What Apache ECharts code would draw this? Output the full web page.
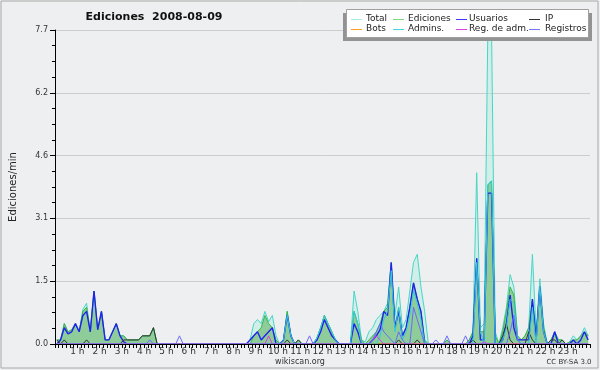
<!DOCTYPE html>
<html><head><meta charset="utf-8">
<script src="https://cdn.jsdelivr.net/npm/echarts@6/dist/echarts.min.js"></script>
<style>
html,body{margin:0;padding:0;background:#fff;}
#c{width:600px;height:370px;}
</style></head><body><div id="c"></div>
<script>
// 144 ten-minute intervals, values in edits/min
const hourLabels = ['1 h','2 h','3 h','4 h','5 h','6 h','7 h','8 h','9 h','10 h','11 h','12 h','13 h','14 h','15 h','16 h','17 h','18 h','19 h','20 h','21 h','22 h','23 h'];
const yTickLabels = ['0.0','1.5','3.1','4.6','6.2','7.7'];
const seriesNames = ['Total','Ediciones','Usuarios','IP','Bots','Admins.','Reg. de adm.','Registros'];

const total = [
 0.1,0.1,0.5,0.3,0.35,0.5,
 0.3,0.85,1.0,0.3,1.3,0.35,
 0.8,0.1,0.1,0.3,0.5,0.2,
 0.2,0.1,0.1,0.1,0.1,0.2,
 0.2,0.2,0.4,0,0,0,
 0,0,0,0,0,0,
 0,0,0,0,0,0,
 0,0,0,0,0,0,
 0,0,0,0,0.1,0.5,
 0.6,0.5,0.8,0.55,0.7,0.2,
 0,0.1,0.8,0.2,0,0.1,
 0,0,0,0,0.15,0.4,
 0.7,0.5,0.3,0.1,0,0,
 0,0,1.3,0.8,0.1,0.05,
 0.3,0.4,0.6,0.7,0.8,1.0,
 2.0,0.7,1.4,0.4,0.6,1.3,
 2.0,2.2,1.4,0.8,0,0,
 0,0,0,0.1,0,0,
 0,0,0,0.1,0.3,4.2,
 0.4,0.5,7.7,7.7,0.3,0,
 0.4,0.9,1.7,1.4,0.2,0.1,
 0.2,0.4,2.2,0.3,1.6,0.5,
 0,0.1,0.3,0.1,0.1,0,
 0.05,0.2,0.1,0.2,0.4,0.2
];
const ediciones = [
 0.1,0.1,0.5,0.3,0.35,0.5,
 0.3,0.8,0.9,0.3,1.3,0.35,
 0.8,0.1,0.1,0.3,0.5,0.2,
 0.2,0.1,0.1,0.1,0.1,0.2,
 0.2,0.2,0.4,0,0,0,
 0,0,0,0,0,0,
 0,0,0,0,0,0,
 0,0,0,0,0,0,
 0,0,0,0,0,0.2,
 0.3,0.4,0.7,0.5,0.4,0.1,
 0,0.1,0.8,0.2,0,0.1,
 0,0,0,0,0.15,0.4,
 0.7,0.5,0.3,0.1,0,0,
 0,0,0.8,0.5,0.1,0,
 0.1,0.2,0.3,0.5,0.8,0.9,
 2.0,0.4,0.9,0.2,0.4,0.9,
 1.5,1.1,0.8,0.1,0,0,
 0,0,0,0.1,0,0,
 0,0,0,0.1,0.3,2.1,
 0.3,0.3,3.9,4.0,0.2,0,
 0.3,0.8,1.4,1.2,0.2,0.1,
 0.2,0.4,1.1,0.2,1.4,0.4,
 0,0.1,0.3,0.1,0.1,0,
 0.05,0.1,0.1,0.2,0.3,0.2
];
const usuarios = [
 0,0.1,0.4,0.25,0.3,0.5,
 0.3,0.7,0.8,0.3,1.3,0.35,
 0.8,0.1,0.1,0.3,0.5,0.2,
 0.05,0,0,0,0,0,
 0,0,0,0,0,0,
 0,0,0,0,0,0,
 0,0,0,0,0,0,
 0,0,0,0,0,0,
 0,0,0,0,0.1,0.2,
 0.3,0.1,0.2,0.3,0.4,0,
 0,0.1,0.7,0.2,0,0,
 0,0,0,0,0.1,0.3,
 0.6,0.4,0.2,0.1,0,0,
 0,0,0.5,0.3,0,0,
 0,0.1,0.2,0.35,0.8,0.7,
 2.0,0.4,0.8,0.2,0.4,0.9,
 1.5,1.1,0.8,0,0,0,
 0,0,0,0,0,0,
 0,0,0,0,0.2,2.1,
 0.1,0.1,3.7,3.7,0,0,
 0.1,0.5,1.2,0.4,0.1,0.1,
 0.1,0.1,1.1,0.1,1.4,0.3,
 0,0,0.3,0,0,0,
 0,0.1,0,0.1,0.3,0.1
];
const ip = [
 0.1,0,0.1,0,0,0,
 0,0,0.1,0,0,0,
 0,0,0,0,0,0,
 0.1,0.1,0.1,0.1,0.1,0.2,
 0.2,0.2,0.4,0,0,0,
 0,0,0,0,0,0,
 0,0,0,0,0,0,
 0,0,0,0,0,0,
 0,0,0,0,0,0,
 0,0,0,0,0,0,
 0,0,0.1,0,0,0.1,
 0,0,0,0,0,0,
 0,0,0,0,0,0,
 0,0,0,0,0,0,
 0,0,0,0,0,0,
 0,0,0.1,0,0,0,
 0,0.1,0,0,0,0,
 0,0,0,0,0,0,
 0,0,0,0,0.1,0,
 0,0,0,0,0,0,
 0.2,0.5,0.1,0,0,0,
 0,0.3,0.1,0,0,0,
 0,0.1,0.1,0,0.1,0,
 0,0,0,0,0,0
];
const bots = new Array(144).fill(0);
const admins = [
 0,0,0,0,0,0, 0,0,0,0,0,0, 0,0,0,0,0,0, 0,0,0,0,0,0,
 0,0,0,0,0,0, 0,0,0,0,0,0, 0,0,0,0,0,0, 0,0,0,0,0,0,
 0,0,0,0,0,0, 0,0,0,0,0,0,
 0,0.1,0.7,0.2,0,0,
 0,0,0,0,0.15,0.4,
 0.7,0.5,0.3,0.1,0,0,
 0,0,0.8,0.5,0,0,
 0,0,0,0.2,0.6,0.8,
 1.8,0.3,0.9,0.1,0.3,0.7,
 1.3,1.0,0.6,0,0,0,
 0,0,0,0,0,0,
 0,0,0,0,0,2.0,
 0.3,0,3.9,4.0,0,0,
 0.1,0.4,1.1,1.0,0.1,0,
 0,0,0.9,0,1.4,0.3,
 0,0,0,0,0,0,
 0,0,0,0,0,0
];
const regAdm = [
 0,0,0,0,0,0, 0,0,0,0,0,0, 0,0,0,0,0,0, 0,0,0,0,0,0,
 0,0,0,0,0,0, 0,0,0,0,0,0, 0,0,0,0,0,0, 0,0,0,0,0,0,
 0,0,0,0,0,0,
 0,0,0,0.2,0,0,
 0,0,0,0,0,0, 0,0,0,0,0,0, 0,0,0,0,0,0, 0,0,0,0,0,0,
 0,0.1,0.2,0.1,0,0,
 0,0,0,0,0,0, 0,0,0,0,0,0, 0,0,0,0,0,0, 0,0,0,0,0,0,
 0,0.05,0,0,0,0,
 0,0,0,0,0,0, 0,0,0,0,0,0, 0,0,0,0,0,0, 0,0,0,0,0,0
];
const registros = [
 0,0,0,0,0,0, 0,0,0,0,0,0, 0,0,0,0,0,0, 0,0,0,0,0,0,
 0,0.1,0,0,0,0,
 0,0,0,0.2,0,0,
 0,0,0,0,0,0, 0,0,0,0,0,0, 0,0,0,0,0,0,
 0,0,0,0,0,0,
 0,0,0,0,0,0,
 0,0,0.2,0,0,0,
 0,0,0,0,0,0,
 0,0,0,0,0,0,
 0,0.1,0.3,0.5,0.3,0.2,
 0.1,0,0.3,0.1,0,0,
 0.9,0.6,0.3,0,0,0,
 0.1,0,0,0.2,0,0,
 0,0,0.2,0,0,0,
 0,0,0,0,0,0,
 0,0,0.3,0.7,0.1,0,
 0,0,0,0,0,0, 0,0,0,0,0,0, 0,0,0,0,0,0
];

const lineColors = ['#46d6c6','#3cb54a','#2222ee','#333333','#ffa020','#35c8dc','#d83ee0','#6a6aff'];
const legendColors = ['#a6ece2','#7fd67f','#3a3aff','#333333','#ffa020','#40d8e8','#e040e0','#7878ff'];

const xy = arr => arr.map((v, i) => [i + 0.5, v]);

const chart = echarts.init(document.getElementById('c'), null, {renderer: 'canvas'});

const FONT = 'DejaVu Sans';
function lineSeries(name, arr, color, width, area, z) {
  const s = {
    name: name, type: 'line', data: xy(arr), showSymbol: false, symbol: 'none',
    lineStyle: {color: color, width: width}, itemStyle: {color: color},
    z: z, silent: true
  };
  if (area) s.areaStyle = {color: area, opacity: 1};
  return s;
}

// legend graphics
const legendEls = [];
const colLineX = [351, 393, 456, 529];
const colTextX = [366, 408, 469, 545];
const rowY = [19, 29];
legendEls.push({type: 'rect', shape: {x: 343, y: 13, width: 249, height: 28}, style: {fill: '#939393'}, z: 100});
legendEls.push({type: 'rect', shape: {x: 346.5, y: 9.5, width: 242, height: 28}, style: {fill: '#ffffff', stroke: '#a0a0a0', lineWidth: 1}, z: 101});
seriesNames.forEach((n, k) => {
  const col = k % 4, row = Math.floor(k / 4);
  legendEls.push({type: 'line', shape: {x1: colLineX[col], y1: rowY[row] + 0.5, x2: colLineX[col] + 11, y2: rowY[row] + 0.5},
    style: {stroke: legendColors[k], lineWidth: 1}, z: 102});
  legendEls.push({type: 'text', x: colTextX[col], y: rowY[row],
    style: {text: n, fill: '#222', font: '9px "DejaVu Sans"', verticalAlign: 'middle'}, z: 102});
});

const option = {
  animation: false,
  backgroundColor: '#eeeff0',
  textStyle: {fontFamily: FONT},
  grid: {left: 46, right: 10, top: 30, bottom: 26},
  xAxis: {
    type: 'value', min: 0, max: 144, interval: 1, z: 10,
    axisLine: {show: true, onZero: false, lineStyle: {color: '#000', width: 1}},
    axisTick: {show: true, length: 4, lineStyle: {color: '#000', width: 1}},
    axisLabel: {fontSize: 9, color: '#333', margin: 3, fontFamily: FONT,
      formatter: v => (v % 6 === 0 && v > 0 && v < 144) ? hourLabels[v / 6 - 1] : ''},
    splitLine: {show: false}
  },
  yAxis: {
    type: 'value', min: 0, max: 7.7, interval: 1.54,
    axisLine: {show: true, lineStyle: {color: '#000', width: 1}},
    axisTick: {show: true, length: 5, lineStyle: {color: '#000'}},
    minorTick: {show: true, splitNumber: 4, length: 3, lineStyle: {color: '#000'}},
    axisLabel: {fontSize: 8, color: '#333', margin: 7, fontFamily: FONT,
      formatter: v => yTickLabels[Math.round(v / 1.54)]},
    splitLine: {show: true, lineStyle: {color: '#cdcdcd', width: 1}},
    name: 'Ediciones/min', nameLocation: 'middle', nameRotate: 90, nameGap: 37,
    nameTextStyle: {fontSize: 10, color: '#222', fontFamily: FONT}
  },
  series: [
    lineSeries(seriesNames[0], total, lineColors[0], 1, 'rgba(175,238,225,0.45)', 2),
    lineSeries(seriesNames[1], ediciones, lineColors[1], 1, 'rgba(100,184,104,0.62)', 3),
    lineSeries(seriesNames[2], usuarios, lineColors[2], 1.4, null, 4),
    lineSeries(seriesNames[3], ip, lineColors[3], 1, null, 4),
    lineSeries(seriesNames[4], bots, lineColors[4], 1, null, 4),
    lineSeries(seriesNames[5], admins, lineColors[5], 1, null, 4),
    lineSeries(seriesNames[6], regAdm, lineColors[6], 1, null, 4),
    lineSeries(seriesNames[7], registros, lineColors[7], 1, null, 4)
  ],
  graphic: [
    {type: 'rect', shape: {x: 1, y: 1, width: 597, height: 367}, style: {fill: null, stroke: '#a8a8a8', lineWidth: 1}, z: 100, silent: true},
    {type: 'text', x: 154, y: 17, style: {text: 'Ediciones  2008-08-09', fill: '#111', font: 'bold 11px "DejaVu Sans"', align: 'center', verticalAlign: 'middle'}, z: 100},
    {type: 'text', x: 300, y: 362, style: {text: 'wikiscan.org', fill: '#333', font: '8px "DejaVu Sans"', align: 'center', verticalAlign: 'middle'}, z: 100},
    {type: 'text', x: 569, y: 362, style: {text: 'CC BY-SA 3.0', fill: '#333', font: '7px "DejaVu Sans"', align: 'center', verticalAlign: 'middle'}, z: 100}
  ].concat(legendEls)
};
chart.setOption(option);
</script>
</body></html>
